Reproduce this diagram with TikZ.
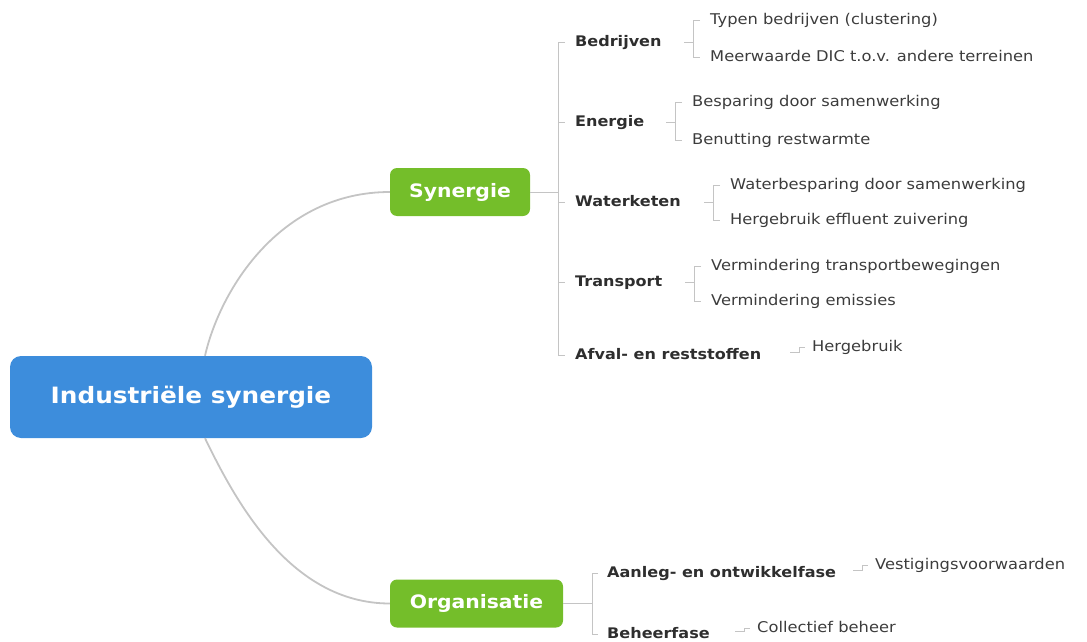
\documentclass[tikz,border=0pt]{standalone}
\usepackage{fontspec}
\setmainfont[FakeStretch=1.1]{DejaVu Sans}
\usetikzlibrary{calc}
\definecolor{cblue}{HTML}{3D8DDC}
\definecolor{cgreen}{HTML}{74BE2A}
\definecolor{cline}{HTML}{C4C4C4}
\definecolor{ctext}{HTML}{2E2E2E}
\definecolor{cleaf}{HTML}{3C3C3C}
\begin{document}
\begin{tikzpicture}[x=1pt,y=-1pt,
 root/.style={fill=cblue, rounded corners=11pt, text=white, font=\bfseries\fontsize{22.5}{27}\selectfont, minimum width=362pt, minimum height=82pt, inner sep=0pt},
 mainbox/.style={fill=cgreen, rounded corners=7pt, text=white, font=\bfseries\fontsize{18.5}{22}\selectfont, minimum height=48pt, inner sep=0pt},
 sub/.style={anchor=west, font=\bfseries\fontsize{14.6}{17}\selectfont, text=ctext, inner sep=0pt, text height=12.5pt, text depth=3.5pt},
 leaf/.style={anchor=west, font=\fontsize{14.8}{17}\selectfont, text=cleaf, inner sep=0pt, text height=12.5pt, text depth=3.5pt},
 line/.style={draw=cline, line width=0.9pt},
 conn/.style={draw=cline, line width=1.8pt}]
\useasboundingbox (0,0) rectangle (1087,642);
% main nodes
\node[root] (root) at (191,397) {Industriële synergie};
\node[mainbox, minimum width=140pt] (syn) at (460,192) {Synergie};
\node[mainbox, minimum width=173pt] (org) at (476.5,603.5) {Organisatie};
% curves
\draw[conn] ([xshift=14pt]root.north) .. controls (220,290) and (280,192) .. (syn.west);
\draw[conn] ([xshift=14pt]root.south) .. controls (235,500) and (290,603.5) .. (org.west);
% synergie children
\node[sub] (bed) at (575,42) {Bedrijven};
\node[sub] (ene) at (575,122) {Energie};
\node[sub] (wat) at (575,202) {Waterketen};
\node[sub] (tra) at (575,282) {Transport};
\node[sub] (afv) at (575,355) {Afval- en reststoffen};
% leaves
\node[leaf] (t1) at (710,20) {Typen bedrijven (clustering)};
\node[leaf] (t2) at (710,57) {Meerwaarde DIC t.o.v. andere terreinen};
\node[leaf] (e1) at (692,102) {Besparing door samenwerking};
\node[leaf] (e2) at (692,140) {Benutting restwarmte};
\node[leaf] (w1) at (730,185) {Waterbesparing door samenwerking};
\node[leaf] (w2) at (730,220) {Hergebruik effluent zuivering};
\node[leaf] (r1) at (711,266) {Vermindering transportbewegingen};
\node[leaf] (r2) at (711,301) {Vermindering emissies};
\node[leaf] (a1) at (812,347) {Hergebruik};
% organisatie children
\node[sub] (aan) at (607,573) {Aanleg- en ontwikkelfase};
\node[sub] (beh) at (607,634) {Beheerfase};
\node[leaf] (v1) at (875,565) {Vestigingsvoorwaarden};
\node[leaf] (c1) at (757,628) {Collectief beheer};
% synergie bracket
\coordinate (sbx) at (558,0);
\draw[line] (syn.east) -- (syn.east -| sbx);
\draw[line] ($(bed.west)+(-10,0)$) -- (bed.west -| sbx) -- (afv.west -| sbx) -- ($(afv.west)+(-10,0)$);
\foreach \n in {ene,wat,tra} \draw[line] (\n.west -| sbx) -- ++(7,0);
% organisatie bracket
\coordinate (obx) at (592,0);
\draw[line] (org.east) -- (org.east -| obx);
\draw[line] ($(aan.west)+(-9,0)$) -- (aan.west -| obx) -- (beh.west -| obx) -- ($(beh.west)+(-9,0)$);
% two-leaf brackets
\foreach \p/\a/\b in {bed/t1/t2, ene/e1/e2, wat/w1/w2, tra/r1/r2} {
  \draw[line] ($(\a.west)+(-10,0)$) -- ($(\a.west)+(-17,0)$) -- ($(\b.west)+(-17,0)$) -- ($(\b.west)+(-10,0)$);
  \draw[line] ($(\a.west |- \p.east)+(-17,0)$) -- ++(-9,0);
}
% single-leaf elbows
\foreach \p/\a in {afv/a1, aan/v1, beh/c1} {
  \draw[line] ($(\a.west |- \p.east)+(-22,-3)$) -- ++(9,0) |- ($(\a.west)+(-7,0)$);
}
\end{tikzpicture}
\end{document}
